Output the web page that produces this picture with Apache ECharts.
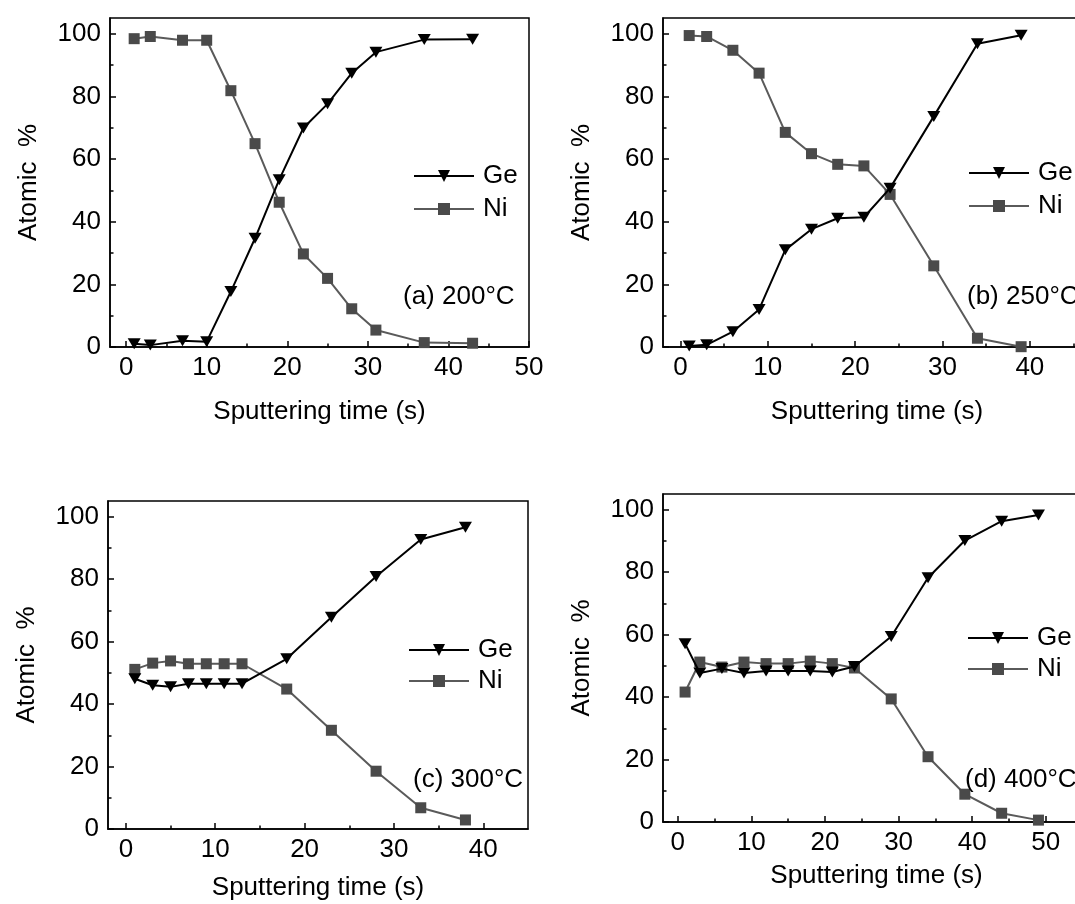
<!DOCTYPE html>
<html>
<head>
<meta charset="utf-8">
<script src="https://cdn.jsdelivr.net/npm/echarts@6/dist/echarts.min.js"></script>
<style>
  html, body { margin: 0; padding: 0; background: #fff; }
  #chart { width: 1075px; height: 904px; }
</style>
</head>
<body>
<div id="chart"></div>
<script>
// Depth profiles: atomic % of Ge and Ni versus sputtering time, four anneal temperatures.
const timeA = [1, 3, 7, 10, 13, 16, 19, 22, 25, 28, 31, 37, 43];
const geA   = [1.0, 0.6, 2.0, 1.7, 17.7, 34.7, 53.4, 69.9, 77.6, 87.4, 94.1, 98.1, 98.2];
const niA   = [98.4, 99.1, 97.9, 97.9, 81.8, 64.9, 46.2, 29.7, 21.9, 12.2, 5.4, 1.4, 1.2];

const timeB = [1, 3, 6, 9, 12, 15, 18, 21, 24, 29, 34, 39];
const geB   = [0.3, 0.7, 4.9, 12.0, 31.0, 37.6, 41.1, 41.4, 50.7, 73.6, 96.8, 99.5];
const niB   = [99.4, 99.1, 94.7, 87.4, 68.5, 61.7, 58.3, 57.8, 48.7, 25.9, 2.8, 0.1];

const timeC = [1, 3, 5, 7, 9, 11, 13, 18, 23, 28, 33, 38];
const geC   = [48.1, 46.0, 45.5, 46.5, 46.5, 46.5, 46.5, 54.5, 67.8, 80.8, 92.7, 96.6];
const niC   = [51.1, 53.1, 53.8, 52.9, 52.9, 52.9, 52.9, 44.8, 31.6, 18.5, 6.8, 2.9];

const timeD = [1, 3, 6, 9, 12, 15, 18, 21, 24, 29, 34, 39, 44, 49];
const geD   = [57.1, 47.7, 49.1, 47.7, 48.3, 48.3, 48.3, 48.0, 49.8, 59.4, 78.2, 90.1, 96.3, 98.3];
const niD   = [41.6, 51.2, 49.6, 51.2, 50.7, 50.7, 51.5, 50.7, 49.3, 39.4, 20.9, 8.9, 2.8, 0.6];

// Tick labels
const xTicks50 = [0, 10, 20, 30, 40, 50];
const xTicks40 = [0, 10, 20, 30, 40];
const xMinor50 = [5, 15, 25, 35, 45];
const xMinor40 = [5, 15, 25, 35, 45];
const yTicks = [0, 20, 40, 60, 80, 100];
const yMinor = [10, 30, 50, 70, 90];

const panelLabels = ['(a) 200\u00B0C', '(b) 250\u00B0C', '(c) 300\u00B0C', '(d) 400\u00B0C'];
const xTitle = 'Sputtering time (s)';
const yTitle = 'Atomic  %';

const FONT = 'Liberation Sans, Arial, Helvetica, sans-serif';
const FS = 26;
const TRI_DOWN = 'path://M0,0L10,0L5,9Z';
const GE_COLOR = '#000000';
const NI_LINE = '#5a5a5a';
const NI_FILL = '#4a4a4a';

// Panel frames in pixels and their x ranges
const panels = [
  { left: 110, top: 18,  width: 419, height: 329, xMin: -2, xMax: 50, ticks: xTicks50, minor: xMinor50, xGap: 52, time: timeA, ge: geA, ni: niA,
    legend: { left: 413, ge: 163, ni: 196 }, note: { x: 403, y: 297 } },
  { left: 663, top: 18,  width: 428, height: 329, xMin: -2, xMax: 47, ticks: xTicks40, minor: xMinor40, xGap: 52, time: timeB, ge: geB, ni: niB,
    legend: { left: 968, ge: 160, ni: 193 }, note: { x: 967, y: 297 } },
  { left: 108, top: 501, width: 420, height: 328, xMin: -2, xMax: 45, ticks: xTicks40, minor: xMinor40, xGap: 46, time: timeC, ge: geC, ni: niC,
    legend: { left: 408, ge: 637, ni: 668 }, note: { x: 413, y: 780 } },
  { left: 663, top: 494, width: 427, height: 328, xMin: -2, xMax: 56, ticks: xTicks50, minor: xMinor50, xGap: 41, time: timeD, ge: geD, ni: niD,
    legend: { left: 967, ge: 625, ni: 656 }, note: { x: 965, y: 780 } }
];

const axisLineStyle = { color: '#000', width: 1.5 };
const labelStyle = { fontSize: FS, color: '#000', fontFamily: FONT };

const grid = [], xAxis = [], yAxis = [], series = [], legend = [], graphic = [];

panels.forEach((p, i) => {
  grid.push({
    left: p.left, top: p.top, width: p.width, height: p.height,
    show: true, borderColor: '#000', borderWidth: 1.5, backgroundColor: 'transparent',
    containLabel: false, outerBoundsMode: 'none'
  });

  const xMain = xAxis.length;
  xAxis.push({
    type: 'value', gridIndex: i, min: p.xMin, max: p.xMax, position: 'bottom',
    axisLine: { show: true, onZero: false, lineStyle: axisLineStyle },
    axisTick: { show: true, inside: true, length: 6, customValues: p.ticks, lineStyle: axisLineStyle },
    axisLabel: { show: true, customValues: p.ticks, margin: 8, ...labelStyle },
    splitLine: { show: false },
    name: xTitle, nameLocation: 'middle', nameGap: p.xGap,
    nameTextStyle: { ...labelStyle }
  });
  xAxis.push({
    type: 'value', gridIndex: i, min: p.xMin, max: p.xMax, position: 'bottom',
    axisLine: { show: false },
    axisTick: { show: true, inside: true, length: 3.5, customValues: p.minor.filter(v => v < p.xMax), lineStyle: axisLineStyle },
    axisLabel: { show: false },
    splitLine: { show: false }
  });

  const yMain = yAxis.length;
  yAxis.push({
    type: 'value', gridIndex: i, min: 0, max: 105, position: 'left',
    axisLine: { show: true, onZero: false, lineStyle: axisLineStyle },
    axisTick: { show: true, inside: true, length: 6, customValues: yTicks, lineStyle: axisLineStyle },
    axisLabel: { show: true, customValues: yTicks, margin: 9, ...labelStyle },
    splitLine: { show: false },
    name: yTitle, nameLocation: 'middle', nameGap: 68,
    nameTextStyle: { ...labelStyle }
  });
  yAxis.push({
    type: 'value', gridIndex: i, min: 0, max: 105, position: 'left',
    axisLine: { show: false, onZero: false },
    axisTick: { show: true, inside: true, length: 3.5, customValues: yMinor, lineStyle: axisLineStyle },
    axisLabel: { show: false },
    splitLine: { show: false }
  });

  series.push({
    name: 'Ge', type: 'line', xAxisIndex: xMain, yAxisIndex: yMain,
    data: p.time.map((t, k) => [t, p.ge[k]]),
    symbol: TRI_DOWN, symbolSize: [13, 11],
    lineStyle: { color: GE_COLOR, width: 2 },
    itemStyle: { color: GE_COLOR, borderWidth: 0 },
    animation: false, z: 3
  });
  series.push({
    name: 'Ni', type: 'line', xAxisIndex: xMain, yAxisIndex: yMain,
    data: p.time.map((t, k) => [t, p.ni[k]]),
    symbol: 'rect', symbolSize: 11,
    lineStyle: { color: NI_LINE, width: 2 },
    itemStyle: { color: NI_FILL, borderWidth: 0 },
    animation: false, z: 2
  });

  ['Ge', 'Ni'].forEach(nm => {
    legend.push({
      data: [nm], orient: 'vertical', left: p.legend.left, top: nm === 'Ge' ? p.legend.ge : p.legend.ni,
      padding: 0, itemWidth: 60, itemHeight: 15, selectedMode: false,
      textStyle: { ...labelStyle, padding: [0, 0, 0, 4] }
    });
  });

  graphic.push({
    type: 'text', x: p.note.x, y: p.note.y, z: 10,
    style: { text: panelLabels[i], font: FS + 'px ' + FONT, fill: '#000', verticalAlign: 'middle', align: 'left' }
  });
});

const chart = echarts.init(document.getElementById('chart'), null, { renderer: 'canvas' });
chart.setOption({
  backgroundColor: '#ffffff',
  animation: false,
  textStyle: { fontFamily: FONT },
  grid, xAxis, yAxis, series, legend, graphic
});
</script>
</body>
</html>
